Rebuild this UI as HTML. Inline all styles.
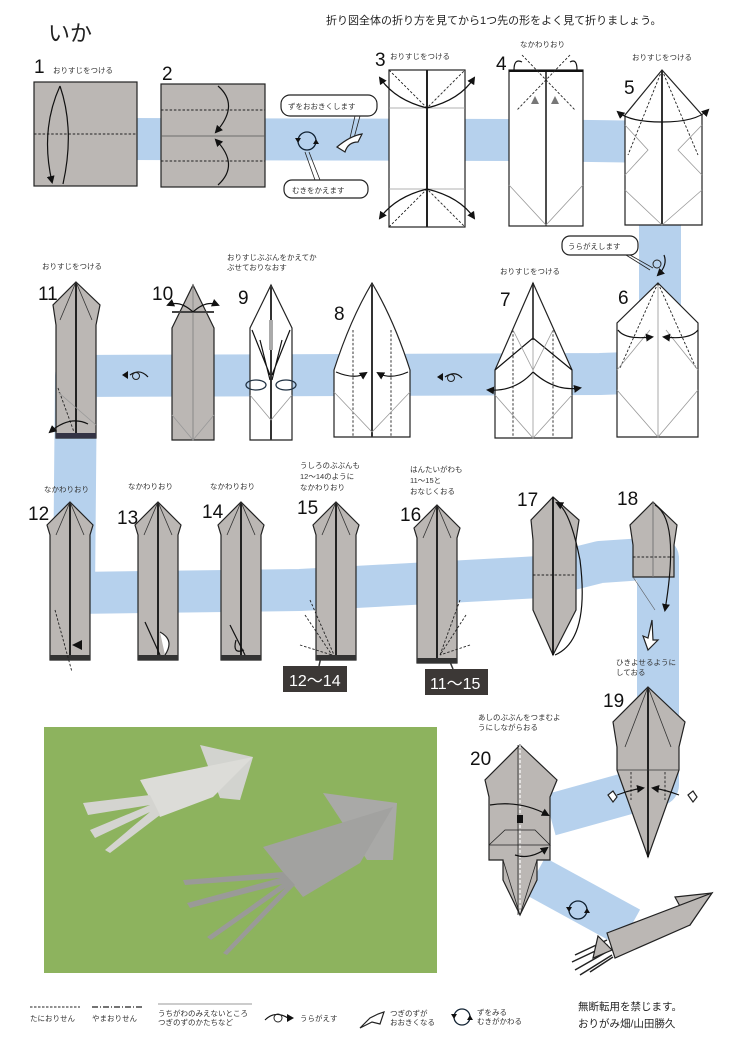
<!DOCTYPE html>
<html><head><meta charset="utf-8"><style>
html,body{margin:0;padding:0;background:#fff}
svg{display:block}
text{font-family:"Liberation Sans","Noto Sans CJK JP",sans-serif;fill:#222}
.n{font-size:19px;fill:#111}
.l{font-size:7.5px;fill:#333}
.g{fill:#bbb7b4;stroke:#222;stroke-width:1.2}
.w{fill:#fff;stroke:#222;stroke-width:1.2}
.d{stroke:#222;stroke-width:0.9;stroke-dasharray:2.5 1.8;fill:none}
.t{stroke:#999;stroke-width:0.8;fill:none}
.s{stroke:#111;stroke-width:1.2;fill:none}
</style></head><body>
<svg width="736" height="1042" viewBox="0 0 736 1042" xmlns="http://www.w3.org/2000/svg">
<defs>
<marker id="a" markerWidth="8" markerHeight="8" refX="6" refY="4" orient="auto" markerUnits="userSpaceOnUse"><path d="M0,0 L8,4 L0,8 Z" fill="#111"/></marker>
<g id="sq">
<path d="M0,0 L23,23 L20,33 L20,158 L-20,158 L-20,33 L-23,23 Z" class="g"/>
<line x1="0" y1="0" x2="0" y2="158" stroke="#111" stroke-width="1.8"/>
<path d="M0,0 L-14,33 M0,0 L14,33" stroke="#333" stroke-width="0.8"/>
<rect x="-20" y="153" width="40" height="5" fill="#333"/>
</g>
</defs>
<!-- blue band -->
<g fill="none" stroke="#b6d1ed" stroke-width="42" stroke-linejoin="round">
<polyline points="105,139 520,140 660,142 660,372 600,374 76,376 74,593 300,590 540,577 600,562 658,558 658,785 550,815"/>
<polyline points="535,876 630,928"/>
</g>
<!-- header -->
<text x="48" y="41" style="font-size:22px">いか</text>
<text x="326" y="24" style="font-size:11px">折り図全体の折り方を見てから1つ先の形をよく見て折りましょう。</text>
<!-- step 1 -->
<text x="34" y="73" class="n">1</text><text x="53" y="73" class="l">おりすじをつける</text>
<rect x="34" y="82" width="103" height="104" class="g"/>
<line x1="34" y1="134" x2="137" y2="134" class="d"/>
<path d="M60,86 Q40,130 52,182" class="s" marker-end="url(#a)"/>
<path d="M60,86 Q75,130 63,184" class="s"/>
<!-- step 2 -->
<text x="162" y="80" class="n">2</text>
<rect x="161" y="84" width="104" height="103" class="g"/>
<line x1="161" y1="110" x2="265" y2="110" class="d"/><line x1="161" y1="161" x2="265" y2="161" class="d"/>
<line x1="161" y1="136" x2="265" y2="136" stroke="#555" stroke-width="0.8"/>
<path d="M218,86 Q240,105 216,132" class="s" marker-end="url(#a)"/>
<path d="M218,185 Q240,165 216,140" class="s" marker-end="url(#a)"/>
<!-- bubbles -->
<rect x="281" y="95" width="96" height="21" rx="9" class="w" stroke-width="1"/>
<text x="288" y="109" class="l">ずをおおきくします</text>
<rect x="284" y="180" width="84" height="18" rx="8" class="w" stroke-width="1"/>
<text x="292" y="193" class="l">むきをかえます</text>
<path d="M355,116 L350,138 M360,116 L354,138" stroke="#222" stroke-width="0.8"/>
<path d="M305,152 L315,180 M309,152 L320,180" stroke="#222" stroke-width="0.8"/>
<circle cx="307" cy="141" r="9" fill="none" stroke="#123" stroke-width="1.3"/>
<path d="M298,143 l-3,-5 l6,0z M316,139 l3,5 l-6,0z" fill="#111"/>
<path d="M337,147 Q350,136 362,134 L358,142 Q348,142 345,152 Z" class="w" stroke-width="1"/>
<!-- step 3 -->
<text x="375" y="66" class="n">3</text><text x="390" y="59" class="l">おりすじをつける</text>
<rect x="389" y="70" width="76" height="157" class="w"/>
<line x1="427" y1="70" x2="427" y2="227" stroke="#222" stroke-width="2"/>
<path d="M389,70 L427,108 L465,70 M389,227 L427,189 L465,227" class="d"/>
<line x1="389" y1="108" x2="465" y2="108" class="t"/><line x1="389" y1="189" x2="465" y2="189" class="t"/>
<path d="M427,108 Q395,100 380,78" class="s" marker-end="url(#a)"/><path d="M427,108 Q460,100 474,78" class="s" marker-end="url(#a)"/>
<path d="M427,189 Q395,197 380,218" class="s" marker-end="url(#a)"/><path d="M427,189 Q460,197 474,218" class="s" marker-end="url(#a)"/>
<!-- step 4 -->
<text x="496" y="70" class="n">4</text><text x="520" y="47" class="l">なかわりおり</text>
<rect x="509" y="70" width="74" height="156" class="w"/>
<line x1="546" y1="70" x2="546" y2="226" stroke="#222" stroke-width="1.6"/>
<line x1="509" y1="71" x2="583" y2="71" stroke="#111" stroke-width="2"/>
<path d="M522,55 L575,110 M570,55 L517,110" class="d"/>
<path d="M509,185 L546,225 L583,185" class="t"/>
<path d="M531,104 l4,-8 l4,8z M551,104 l4,-8 l4,8z" fill="#777"/>
<path d="M514,70 Q514,58 522,62 M577,70 Q577,58 570,62" class="s"/>
<!-- step 5 -->
<text x="624" y="94" class="n">5</text><text x="632" y="60" class="l">おりすじをつける</text>
<path d="M662,70 L702,115 L702,225 L625,225 L625,115 Z" class="w"/>
<line x1="662" y1="70" x2="662" y2="225" stroke="#333" stroke-width="2"/>
<path d="M662,70 L628,155 M662,70 L698,155" class="d"/>
<path d="M625,125 L648,150 L625,175 M702,125 L678,150 L702,175 M625,190 L662,225 L702,190" class="t"/>
<path d="M662,122 Q630,122 618,112" class="s" marker-end="url(#a)"/><path d="M662,122 Q696,122 708,110" class="s" marker-end="url(#a)"/>
<!-- bubble uragaeshimasu -->
<rect x="562" y="236" width="76" height="19" rx="8" class="w" stroke-width="1"/>
<text x="568" y="249" class="l">うらがえします</text>
<path d="M630,255 L653,268 M626,255 L650,270" stroke="#222" stroke-width="0.8"/>
<circle cx="657" cy="264" r="4" fill="none" stroke="#222"/>
<path d="M664,255 Q668,265 658,275" class="s" marker-end="url(#a)"/>
<!-- step 6 -->
<text x="618" y="304" class="n">6</text>
<path d="M658,283 L698,323 L698,437 L617,437 L617,323 Z" class="w"/>
<line x1="658" y1="283" x2="658" y2="437" stroke="#aaa"/>
<path d="M658,283 L620,368 M658,283 L696,368" class="d"/>
<path d="M617,370 L650,330 M698,370 L666,330 M617,390 L658,437 L698,390" class="t"/>
<path d="M618,330 Q625,340 652,337" class="s" marker-end="url(#a)"/><path d="M698,330 Q690,340 664,337" class="s" marker-end="url(#a)"/>
<!-- step 7 -->
<text x="500" y="306" class="n">7</text><text x="500" y="274" class="l">おりすじをつける</text>
<path d="M533,283 L572,370 L572,438 L495,438 L495,370 Z" class="w"/>
<path d="M495,370 L533,338 L572,370" class="s"/>
<line x1="533" y1="283" x2="533" y2="340" stroke="#222" stroke-width="1.6"/>
<line x1="533" y1="340" x2="533" y2="438" class="t"/>
<path d="M513,330 L513,438 M553,330 L553,438" class="d"/>
<path d="M495,395 L533,438 L572,395 M513,330 L533,370 L553,330" class="t"/>
<path d="M533,372 Q515,392 488,390" class="s" marker-end="url(#a)"/><path d="M533,372 Q555,392 580,388" class="s" marker-end="url(#a)"/>
<!-- rotate icons -->
<path d="M445,377 Q455,370 462,378" class="s"/><circle cx="451" cy="378" r="3.5" fill="none" stroke="#222"/><path d="M437,377 l6,-4 l0,8z" fill="#111"/>
<path d="M130,375 Q140,368 148,377" class="s"/><circle cx="136" cy="376" r="3.5" fill="none" stroke="#222"/><path d="M122,375 l6,-4 l0,8z" fill="#111"/>
<!-- step 8 -->
<text x="334" y="320" class="n">8</text>
<path d="M372,283 Q350,320 334,370 L334,437 L410,437 L410,370 Q394,320 372,283 Z" class="w"/>
<line x1="372" y1="283" x2="372" y2="437" stroke="#333" stroke-width="2"/>
<path d="M353,330 L353,437 M391,330 L391,437" class="d"/>
<path d="M334,392 L372,432 L410,392" class="t"/>
<path d="M336,372 Q355,380 366,373" class="s" marker-end="url(#a)"/><path d="M408,372 Q390,380 378,373" class="s" marker-end="url(#a)"/>
<!-- step 9 -->
<text x="238" y="304" class="n">9</text>
<text x="227" y="260" class="l">おりすじぶぶんをかえてか</text><text x="227" y="270" class="l">ぶせておりなおす</text>
<path d="M271,285 L292,328 L292,440 L250,440 L250,328 Z" class="w"/>
<line x1="271" y1="285" x2="271" y2="440" stroke="#333" stroke-width="2"/>
<rect x="269" y="320" width="4" height="30" fill="#aaa"/>
<path d="M252,330 L270,375 M290,330 L272,375 M260,340 L270,380 M282,340 L272,380" class="s" stroke-width="0.8"/>
<path d="M250,395 L271,420 L292,395" class="t"/>
<ellipse cx="256" cy="385" rx="10" ry="5" fill="none" stroke="#234" stroke-width="1.3"/><ellipse cx="286" cy="385" rx="10" ry="5" fill="none" stroke="#234" stroke-width="1.3"/>
<!-- step 10 -->
<text x="152" y="300" class="n">10</text>
<path d="M193,285 L214,328 L214,440 L172,440 L172,328 Z" class="g"/>
<line x1="172" y1="312" x2="214" y2="312" stroke="#444" stroke-width="2"/>
<line x1="193" y1="285" x2="193" y2="440" stroke="#888"/>
<path d="M172,415 L193,440 L214,415" class="t"/>
<path d="M193,312 Q180,300 168,305" class="s" marker-end="url(#a)"/><path d="M193,312 Q206,300 218,305" class="s" marker-end="url(#a)"/>
<!-- step 11 -->
<text x="38" y="300" class="n">11</text><text x="42" y="269" class="l">おりすじをつける</text>
<path d="M76,282 L100,305 L96,325 L96,438 L56,438 L56,325 L53,305 Z" class="g"/>
<line x1="76" y1="282" x2="76" y2="438" stroke="#111" stroke-width="1.8"/>
<path d="M76,282 L60,320 M76,282 L92,320" stroke="#333" stroke-width="0.8"/>
<path d="M58,388 L74,432" class="d"/><path d="M58,392 L96,425" class="t"/>
<rect x="56" y="433" width="40" height="5" fill="#334"/>
<path d="M88,424 Q70,415 50,432" class="s" marker-end="url(#a)"/>
<!-- row 3 squids -->
<use href="#sq" transform="translate(70,502)"/>
<use href="#sq" transform="translate(158,502)"/>
<use href="#sq" transform="translate(241,502)"/>
<use href="#sq" transform="translate(336,502)"/>
<use href="#sq" transform="translate(437,505)"/>
<path d="M55,610 L72,672" class="d"/><path d="M72,645 l10,-5 l0,10z" fill="#111"/>
<path d="M145,622 L160,655" class="s"/><path d="M160,632 Q175,640 165,655" class="w"/>
<path d="M230,625 L245,655" class="s"/><path d="M236,640 Q232,655 244,650" class="s"/>
<path d="M310,600 L334,655 M305,615 L332,655 M300,645 L332,655" class="d"/>
<path d="M460,600 L440,655 M466,615 L440,655 M470,645 L440,655" class="d"/>
<text x="28" y="520" class="n">12</text><text x="44" y="492" class="l">なかわりおり</text>
<text x="117" y="524" class="n">13</text><text x="128" y="489" class="l">なかわりおり</text>
<text x="202" y="518" class="n">14</text><text x="210" y="489" class="l">なかわりおり</text>
<text x="297" y="514" class="n">15</text>
<text x="300" y="468" class="l">うしろのぶぶんも</text><text x="300" y="479" class="l">12〜14のように</text><text x="300" y="490" class="l">なかわりおり</text>
<text x="400" y="521" class="n">16</text>
<text x="410" y="472" class="l">はんたいがわも</text><text x="410" y="483" class="l">11〜15と</text><text x="410" y="494" class="l">おなじくおる</text>
<rect x="283" y="666" width="64" height="26" fill="#3c3836"/><text x="289" y="686" style="font-size:16px;fill:#fff">12〜14</text>
<rect x="425" y="669" width="63" height="26" fill="#3c3836"/><text x="430" y="689" style="font-size:16px;fill:#fff">11〜15</text>
<line x1="321" y1="657" x2="319" y2="666" stroke="#333" stroke-width="1.5"/><line x1="450" y1="662" x2="453" y2="669" stroke="#333" stroke-width="1.5"/>
<!-- step 17 -->
<text x="517" y="506" class="n">17</text>
<path d="M553,497 L579,520 L576,540 L576,610 L553,655 L533,610 L533,540 L531,520 Z" class="g"/>
<line x1="553" y1="497" x2="553" y2="655" stroke="#111" stroke-width="1.8"/>
<line x1="533" y1="575" x2="576" y2="575" class="d"/>
<path d="M555,655 Q590,640 580,560 Q570,510 557,503" class="s" marker-end="url(#a)"/>
<!-- step 18 -->
<text x="617" y="505" class="n">18</text>
<path d="M653,502 L677,525 L674,545 L674,577 L633,577 L633,545 L630,525 Z" class="g"/>
<line x1="653" y1="502" x2="653" y2="577" stroke="#777"/>
<line x1="633" y1="557" x2="674" y2="557" class="d"/>
<path d="M655,505 Q680,520 665,610" class="s" marker-end="url(#a)"/>
<line x1="633" y1="577" x2="655" y2="610" stroke="#555" stroke-width="0.6"/>
<path d="M652,620 L648,638 L643,636 L648,650 L658,640 L653,640 Z" class="w" stroke-width="1"/>
<text x="616" y="665" class="l">ひきよせるように</text><text x="616" y="675" class="l">しておる</text>
<!-- step 19 -->
<text x="603" y="707" class="n">19</text>
<path d="M648,687 L685,722 L679,747 L679,770 L648,857 L617,770 L617,747 L613,722 Z" class="g"/>
<line x1="648" y1="687" x2="648" y2="857" stroke="#111" stroke-width="1.8"/>
<path d="M648,687 L625,747 M648,687 L671,747" stroke="#333" stroke-width="0.8"/>
<line x1="617" y1="770" x2="679" y2="770" stroke="#333" stroke-width="0.8"/>
<path d="M631,772 L631,800 M665,772 L665,800" class="d"/>
<path d="M617,795 Q630,790 643,788" class="s" marker-end="url(#a)"/><path d="M679,795 Q666,790 653,788" class="s" marker-end="url(#a)"/>
<path d="M608,795 l5,-4 l4,6 l-4,5z M688,795 l5,-4 l4,6 l-4,5z" class="w" stroke-width="0.8"/>
<!-- step 20 -->
<text x="470" y="765" class="n">20</text>
<text x="478" y="720" class="l">あしのぶぶんをつまむよ</text><text x="478" y="730" class="l">うにしながらおる</text>
<path d="M520,745 L557,780 L550,797 L550,860 L537,860 L537,880 L520,915 L503,880 L503,860 L489,860 L489,797 L485,780 Z" class="g"/>
<line x1="520" y1="745" x2="520" y2="915" stroke="#fff" stroke-width="1.2" stroke-dasharray="3 2"/>
<line x1="518" y1="745" x2="518" y2="915" stroke="#222" stroke-width="0.8"/>
<path d="M489,845 L505,830 L535,830 L550,845 L489,845 M503,860 L520,915 L537,860" stroke="#222" stroke-width="0.8" fill="none"/>
<path d="M490,805 Q520,800 548,815" class="s" marker-end="url(#a)"/>
<path d="M515,855 Q530,860 547,848" class="s" marker-end="url(#a)"/>
<rect x="517" y="815" width="6" height="8" fill="#111"/>
<!-- final squid -->
<path d="M675,897 L712,893 L700,910 L690,925 Z" class="g"/>
<path d="M607,933 L712,893 L690,925 L615,958 Z" class="g"/>
<path d="M607,940 L575,955 M608,945 L572,962 M610,950 L575,970 M612,955 L580,975 M613,957 L590,972" stroke="#222" stroke-width="1.5"/>
<path d="M598,936 L612,950 L593,958 Z" class="g" stroke-width="0.8"/>
<circle cx="578" cy="910" r="9" fill="none" stroke="#123" stroke-width="1.3"/>
<path d="M569,912 l-3,-5 l6,0z M587,908 l3,5 l-6,0z" fill="#111"/>
<!-- photo -->
<rect x="44" y="727" width="393" height="246" fill="#8db35e"/>
<path d="M200,745 L253,757 L240,800 L220,798 Z" fill="#d2d3cf"/>
<path d="M140,780 L253,757 L213,797 L160,817 Z" fill="#dcdcd8"/>
<path d="M150,795 L83,803 L88,815 L150,805 L90,830 L95,838 L150,812 L105,850 L110,853 L160,815 Z" fill="#d4d4d0"/>
<path d="M323,793 L397,803 L393,860 L367,860 Z" fill="#a9a9a7"/>
<path d="M263,847 L393,807 L360,863 L303,897 Z" fill="#a2a2a0"/>
<path d="M283,872 L183,880 L185,885 L280,878 L187,903 L190,908 L282,884 L207,937 L211,940 L285,888 L223,953 L227,955 L295,885 Z" fill="#9a9a98"/>
<!-- legend -->
<line x1="30" y1="1007" x2="80" y2="1007" stroke="#222" stroke-width="1" stroke-dasharray="2.5 1.5"/>
<text x="30" y="1021" class="l">たにおりせん</text>
<line x1="92" y1="1007" x2="142" y2="1007" stroke="#222" stroke-width="1.2" stroke-dasharray="6 2 1 2"/>
<text x="92" y="1021" class="l">やまおりせん</text>
<line x1="158" y1="1004" x2="252" y2="1004" stroke="#999" stroke-width="1"/>
<text x="158" y="1016" class="l">うちがわのみえないところ</text><text x="158" y="1025" class="l">つぎのずのかたちなど</text>
<path d="M265,1020 Q275,1010 288,1018" class="s"/><circle cx="278" cy="1018" r="4" fill="none" stroke="#222"/><path d="M287,1014 l7,4 l-7,4z" fill="#111"/>
<text x="300" y="1021" class="l">うらがえす</text>
<path d="M360,1028 L370,1018 L378,1014 L384,1012 L380,1024 L372,1022 Z" class="w" stroke-width="1"/>
<text x="390" y="1016" class="l">つぎのずが</text><text x="390" y="1025" class="l">おおきくなる</text>
<circle cx="462" cy="1017" r="8" fill="none" stroke="#123" stroke-width="1.3"/>
<path d="M454,1019 l-3,-5 l6,0z M470,1015 l3,5 l-6,0z" fill="#111"/>
<text x="477" y="1015" class="l">ずをみる</text><text x="477" y="1024" class="l">むきがかわる</text>
<text x="578" y="1010" style="font-size:10.5px">無断転用を禁じます。</text>
<text x="578" y="1027" style="font-size:10.5px">おりがみ畑/山田勝久</text>
</svg>
</body></html>
